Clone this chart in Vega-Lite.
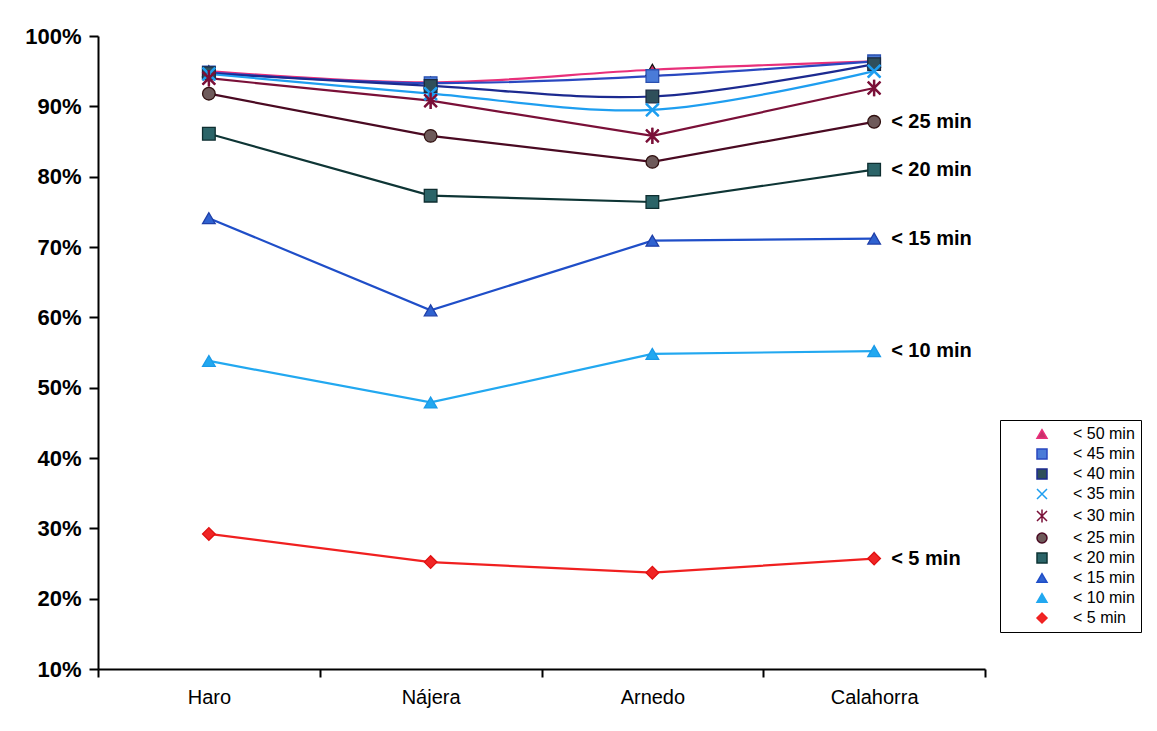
{
  "$schema": "https://vega.github.io/schema/vega-lite/v6.json",
  "width": 887,
  "height": 633,
  "autosize": {"type": "none"},
  "padding": {"left": 98, "top": 36, "right": 172, "bottom": 62},
  "background": "white",
  "config": {
    "view": {"stroke": null},
    "font": "Liberation Sans",
    "axis": {"domainColor": "black", "tickColor": "black", "labelColor": "black", "grid": false, "domainWidth": 2, "tickWidth": 2}
  },
  "data": {
    "values": [
      {"city": "Haro", "series": "< 50 min", "value": 0.950},
      {"city": "Nájera", "series": "< 50 min", "value": 0.934},
      {"city": "Arnedo", "series": "< 50 min", "value": 0.952},
      {"city": "Calahorra", "series": "< 50 min", "value": 0.964},
      {"city": "Haro", "series": "< 45 min", "value": 0.948},
      {"city": "Nájera", "series": "< 45 min", "value": 0.933},
      {"city": "Arnedo", "series": "< 45 min", "value": 0.943},
      {"city": "Calahorra", "series": "< 45 min", "value": 0.964},
      {"city": "Haro", "series": "< 40 min", "value": 0.947},
      {"city": "Nájera", "series": "< 40 min", "value": 0.929},
      {"city": "Arnedo", "series": "< 40 min", "value": 0.914},
      {"city": "Calahorra", "series": "< 40 min", "value": 0.960},
      {"city": "Haro", "series": "< 35 min", "value": 0.946},
      {"city": "Nájera", "series": "< 35 min", "value": 0.918},
      {"city": "Arnedo", "series": "< 35 min", "value": 0.895},
      {"city": "Calahorra", "series": "< 35 min", "value": 0.950},
      {"city": "Haro", "series": "< 30 min", "value": 0.940},
      {"city": "Nájera", "series": "< 30 min", "value": 0.908},
      {"city": "Arnedo", "series": "< 30 min", "value": 0.858},
      {"city": "Calahorra", "series": "< 30 min", "value": 0.926},
      {"city": "Haro", "series": "< 25 min", "value": 0.918},
      {"city": "Nájera", "series": "< 25 min", "value": 0.858},
      {"city": "Arnedo", "series": "< 25 min", "value": 0.821},
      {"city": "Calahorra", "series": "< 25 min", "value": 0.878},
      {"city": "Haro", "series": "< 20 min", "value": 0.861},
      {"city": "Nájera", "series": "< 20 min", "value": 0.773},
      {"city": "Arnedo", "series": "< 20 min", "value": 0.764},
      {"city": "Calahorra", "series": "< 20 min", "value": 0.810},
      {"city": "Haro", "series": "< 15 min", "value": 0.741},
      {"city": "Nájera", "series": "< 15 min", "value": 0.610},
      {"city": "Arnedo", "series": "< 15 min", "value": 0.709},
      {"city": "Calahorra", "series": "< 15 min", "value": 0.712},
      {"city": "Haro", "series": "< 10 min", "value": 0.538},
      {"city": "Nájera", "series": "< 10 min", "value": 0.479},
      {"city": "Arnedo", "series": "< 10 min", "value": 0.548},
      {"city": "Calahorra", "series": "< 10 min", "value": 0.552},
      {"city": "Haro", "series": "< 5 min", "value": 0.292},
      {"city": "Nájera", "series": "< 5 min", "value": 0.252},
      {"city": "Arnedo", "series": "< 5 min", "value": 0.237},
      {"city": "Calahorra", "series": "< 5 min", "value": 0.257}
    ]
  },
  "encoding": {
    "x": {
      "field": "city", "type": "nominal", "sort": ["Haro", "Nájera", "Arnedo", "Calahorra"],
      "scale": {"type": "band", "paddingInner": 0, "paddingOuter": 0},
      "bandPosition": 0.5,
      "axis": {"title": null, "labelAngle": 0, "labelFontSize": 20, "labelPadding": 10, "tickBand": "extent", "tickSize": 8}
    },
    "y": {
      "field": "value", "type": "quantitative",
      "scale": {"domain": [0.1, 1.0], "nice": false, "zero": false},
      "axis": {"title": null, "format": ".0%", "values": [0.1, 0.2, 0.3, 0.4, 0.5, 0.6, 0.7, 0.8, 0.9, 1.0], "labelFontSize": 22, "labelFontWeight": "bold", "labelPadding": 8, "tickSize": 9}
    }
  },
  "layer": [
    {
      "transform": [{"filter": {"field": "series", "oneOf": ["< 30 min", "< 25 min", "< 20 min", "< 15 min", "< 10 min", "< 5 min"]}}],
      "mark": {"type": "line", "strokeWidth": 2.2, "interpolate": "linear"},
      "encoding": {
        "color": {
          "field": "series", "type": "nominal",
          "scale": {
            "domain": ["< 50 min", "< 45 min", "< 40 min", "< 35 min", "< 30 min", "< 25 min", "< 20 min", "< 15 min", "< 10 min", "< 5 min"],
            "range": ["#E8307A", "#2A48C0", "#1C2A90", "#1E9EF0", "#7A1038", "#4A0A22", "#0E3535", "#1F4EC8", "#22A8F0", "#F02020"]
          },
          "legend": {
            "title": null,
            "orient": "none",
            "legendX": 902,
            "legendY": 384,
            "strokeColor": "black",
            "fillColor": "white",
            "padding": 6,
            "labelFontSize": 16,
            "labelColor": "black",
            "symbolSize": 100,
            "symbolOffset": 28,
            "labelOffset": 23,
            "rowPadding": 4,
            "symbolStrokeWidth": 1.5,
            "encode": {
              "symbols": {
                "update": {
                  "shape": {"signal": "{'< 50 min': 'M-5,0L-1.3,0M1.3,0L5,0M0,-1.3L1.3,1L-1.3,1Z', '< 45 min': 'M-5,0L-1.1,0M1.1,0L5,0M-1.1,-1.1H1.1V1.1H-1.1Z', '< 40 min': 'M-5,0L-1.1,0M1.1,0L5,0M-1.1,-1.1H1.1V1.1H-1.1Z', '< 35 min': 'M-5,0L5,0M-1.1,-1.1L1.1,1.1M-1.1,1.1L1.1,-1.1', '< 30 min': 'M-5,0L5,0M-1.1,-1.1L1.1,1.1M-1.1,1.1L1.1,-1.1M0,-1.3L0,1.3', '< 25 min': 'M-5,0L-1.1,0M1.1,0L5,0M-1.1,0A1.1,1.1 0 1,0 1.1,0A1.1,1.1 0 1,0 -1.1,0Z', '< 20 min': 'M-5,0L-1.1,0M1.1,0L5,0M-1.1,-1.1H1.1V1.1H-1.1Z', '< 15 min': 'M-5,0L-1.3,0M1.3,0L5,0M0,-1.3L1.3,1L-1.3,1Z', '< 10 min': 'M-5,0L-1.3,0M1.3,0L5,0M0,-1.3L1.3,1L-1.3,1Z', '< 5 min': 'M-5,0L-1.2,0M1.2,0L5,0M0,-1.2L1.2,0L0,1.2L-1.2,0Z'}[datum.value]"},
                  "stroke": {"signal": "scale('color', datum.value)"},
                  "fill": {"signal": "scale('fill', datum.value)"},
                  "strokeWidth": {"value": 1.5},
                  "opacity": {"value": 1},
                  "fillOpacity": {"value": 1},
                  "strokeOpacity": {"value": 1}
                }
              }
            }
          }
        },
        "detail": {"field": "series"}
      }
    },
    {
      "transform": [{"filter": {"field": "series", "oneOf": ["< 50 min", "< 45 min", "< 40 min", "< 35 min"]}}],
      "mark": {"type": "line", "strokeWidth": 2.2, "interpolate": "catmull-rom"},
      "encoding": {
        "color": {"field": "series", "type": "nominal"},
        "detail": {"field": "series"}
      }
    },
    {
      "mark": {"type": "point", "filled": true, "opacity": 1, "size": 160, "strokeWidth": 1.3},
      "encoding": {
        "fill": {
          "field": "series", "type": "nominal", "legend": null,
          "scale": {
            "domain": ["< 50 min", "< 45 min", "< 40 min", "< 35 min", "< 30 min", "< 25 min", "< 20 min", "< 15 min", "< 10 min", "< 5 min"],
            "range": ["#C8306A", "#4A7BD8", "#2F4F5A", "#1E9EF0", "#7A1038", "#6E5A5A", "#2B6468", "#2F62D0", "#22A8F0", "#F02525"]
          }
        },
        "shape": {
          "field": "series", "type": "nominal", "legend": null,
          "scale": {
            "domain": ["< 50 min", "< 45 min", "< 40 min", "< 35 min", "< 30 min", "< 25 min", "< 20 min", "< 15 min", "< 10 min", "< 5 min"],
            "range": ["triangle-up", "square", "square", "M-1,-1L1,1M-1,1L1,-1", "M-1,-1L1,1M-1,1L1,-1M0,-1.3L0,1.3", "circle", "square", "triangle-up", "triangle-up", "diamond"]
          }
        },
        "stroke": {
          "field": "series", "type": "nominal", "legend": null,
          "scale": {
            "domain": ["< 50 min", "< 45 min", "< 40 min", "< 35 min", "< 30 min", "< 25 min", "< 20 min", "< 15 min", "< 10 min", "< 5 min"],
            "range": ["#101010", "#2A50B0", "#1A2A40", "#1E9EF0", "#7A1038", "#301010", "#0E2E30", "#1F3FA8", "#1A9AE8", "#E01010"]
          }
        }
      }
    },
    {
      "transform": [{"filter": {"field": "series", "oneOf": ["< 35 min", "< 30 min"]}}],
      "mark": {"type": "point", "filled": true, "opacity": 1, "size": 160, "strokeWidth": 2.5},
      "encoding": {
        "fill": {"field": "series", "type": "nominal", "legend": null},
        "shape": {"field": "series", "type": "nominal", "legend": null},
        "stroke": {"field": "series", "type": "nominal", "legend": null}
      }
    },
    {
      "transform": [
        {"filter": {"field": "city", "equal": "Calahorra"}},
        {"filter": {"field": "series", "oneOf": ["< 25 min", "< 20 min", "< 15 min", "< 10 min", "< 5 min"]}}
      ],
      "mark": {"type": "text", "align": "left", "baseline": "middle", "dx": 17, "fontSize": 20, "fontWeight": "bold", "color": "black"},
      "encoding": {
        "text": {"field": "series"}
      }
    }
  ]
}
